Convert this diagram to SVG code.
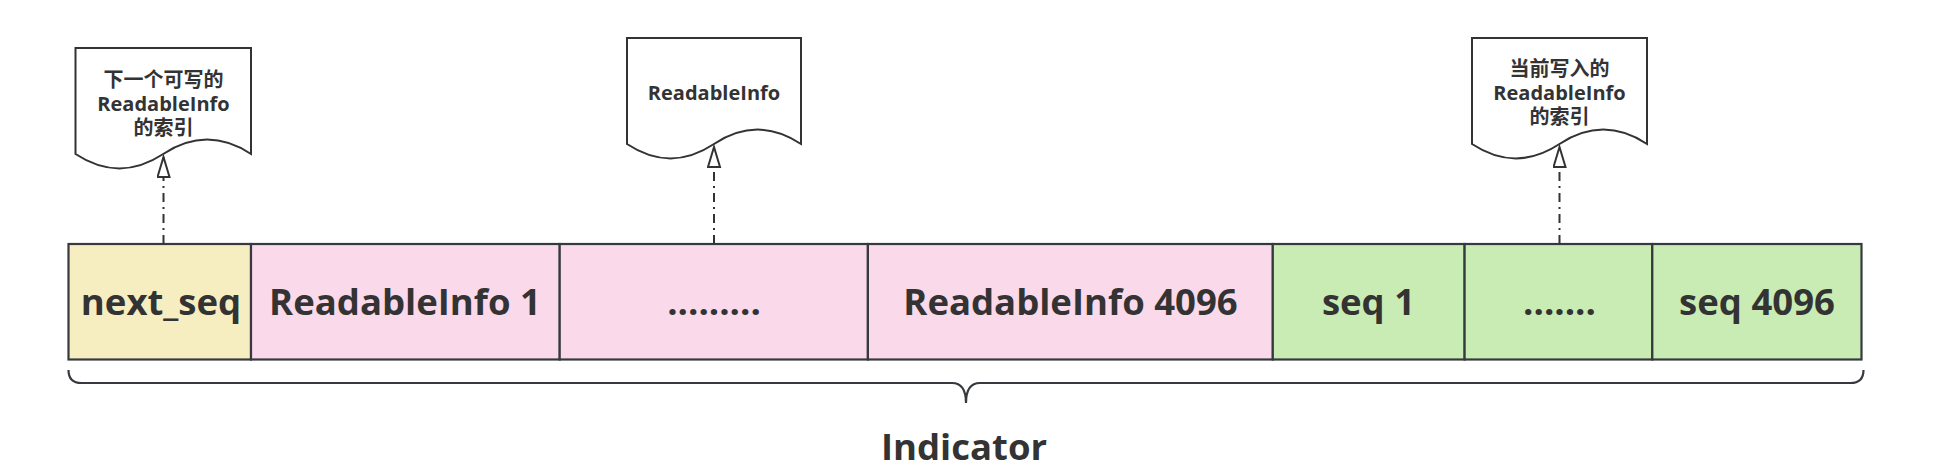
<svg xmlns="http://www.w3.org/2000/svg" width="1951" height="475" viewBox="0 0 1951 475">
<style>
.cell{stroke:#36393d;stroke-width:2.2}
.y{fill:#f6eec0}.p{fill:#fad9eb}.g{fill:#c9ecb4}
.doc{fill:#ffffff;stroke:#333333;stroke-width:2}
.big{font-family:"Open Sans","Noto Sans CJK SC",sans-serif;font-weight:bold;font-size:36.5px;fill:#333333;text-anchor:middle}
.small{font-family:"Open Sans","Noto Sans CJK SC",sans-serif;font-weight:bold;font-size:20px;fill:#333333;text-anchor:middle}
.conn{fill:none;stroke:#333333;stroke-width:2;stroke-dasharray:9 5 2 5}
.brace{fill:none;stroke:#36393d;stroke-width:2.2}
</style>
<defs>
<marker id="open" markerUnits="userSpaceOnUse" markerWidth="24" markerHeight="16" refX="21" refY="7" orient="auto">
<path d="M1,1 L21,7 L1,13 Z" fill="#ffffff" stroke="#333333" stroke-width="2"/>
</marker>
</defs>
<g id="doc1">
<path class="doc" d="M75.5,48 H251 V154 Q207.1,125.2 163.25,154 Q119.4,182.8 75.5,154 Z"/>
<text class="small" x="163.5" y="87">下一个可写的</text>
<text class="small" x="163.5" y="111">ReadableInfo</text>
<text class="small" x="163.5" y="135">的索引</text>
</g>
<g id="doc2">
<path class="doc" d="M627,38 H801 V144 Q757.5,115.2 714,144 Q670.5,172.8 627,144 Z"/>
<text class="small" x="714" y="100">ReadableInfo</text>
</g>
<g id="doc3">
<path class="doc" d="M1472,38 H1647 V144 Q1603.25,115.2 1559.5,144 Q1515.75,172.8 1472,144 Z"/>
<text class="small" x="1559.5" y="76">当前写入的</text>
<text class="small" x="1559.5" y="100">ReadableInfo</text>
<text class="small" x="1559.5" y="124">的索引</text>
</g>
<g id="cell-next-seq">
<rect class="cell y" x="68.5" y="244" width="182.5" height="115.5"/>
<text class="big" x="161" y="315">next_seq</text>
</g>
<g id="cell-ri1">
<rect class="cell p" x="251" y="244" width="308.7" height="115.5"/>
<text class="big" x="405" y="315">ReadableInfo 1</text>
</g>
<g id="cell-ri-dots">
<rect class="cell p" x="559.7" y="244" width="308.2" height="115.5"/>
<text class="big" x="714" y="315">.........</text>
</g>
<g id="cell-ri4096">
<rect class="cell p" x="867.9" y="244" width="404.9" height="115.5"/>
<text class="big" x="1070.5" y="315">ReadableInfo 4096</text>
</g>
<g id="cell-seq1">
<rect class="cell g" x="1272.8" y="244" width="191.8" height="115.5"/>
<text class="big" x="1368.5" y="315">seq 1</text>
</g>
<g id="cell-seq-dots">
<rect class="cell g" x="1464.6" y="244" width="187.7" height="115.5"/>
<text class="big" x="1559.5" y="315">.......</text>
</g>
<g id="cell-seq4096">
<rect class="cell g" x="1652.3" y="244" width="209.2" height="115.5"/>
<text class="big" x="1757" y="315">seq 4096</text>
</g>
<g id="indicator">
<path class="brace" d="M68.5,370 Q68.5,383 81.5,383 L952,383 Q966,383 966,403 Q966,383 980,383 L1850.5,383 Q1863.5,383 1863.5,370"/>
<text class="big" x="964" y="460">Indicator</text>
</g>
<g id="connectors">
<line class="conn" x1="163.5" y1="244" x2="163.5" y2="157" marker-end="url(#open)"/>
<line class="conn" x1="714" y1="244" x2="714" y2="147" marker-end="url(#open)"/>
<line class="conn" x1="1559.5" y1="244" x2="1559.5" y2="147" marker-end="url(#open)"/>
</g>
</svg>
